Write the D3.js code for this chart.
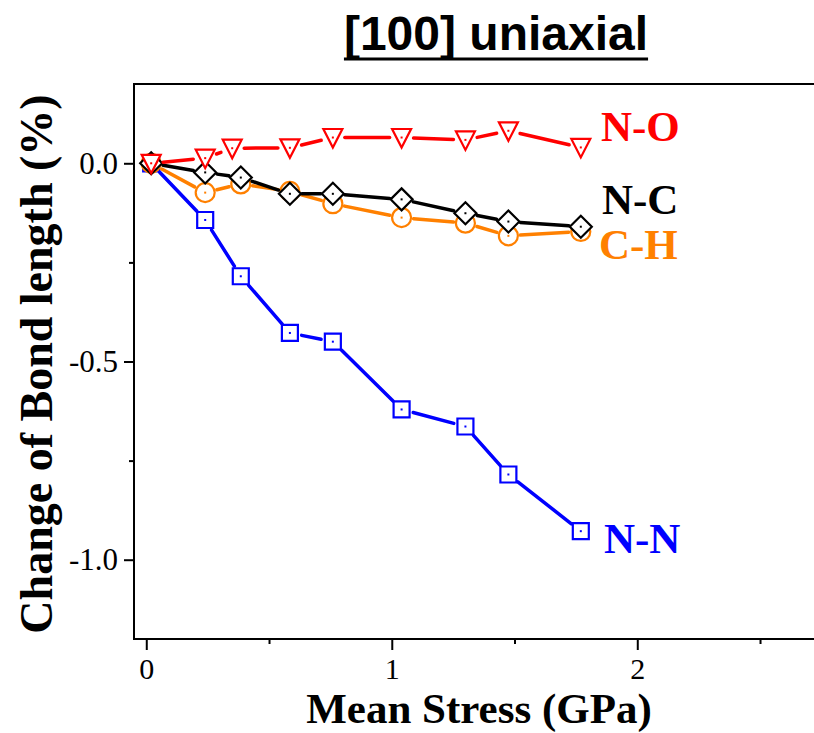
<!DOCTYPE html>
<html>
<head>
<meta charset="utf-8">
<script src="https://cdn.jsdelivr.net/npm/d3@7"></script>
<style>
  body { margin: 0; background: #fff; }
  svg { display: block; }
</style>
</head>
<body>
<svg id="chart" width="814" height="733"></svg>
<script>
// data (mean stress in GPa, bond length change in %)
const stressAll = [0.02, 0.24, 0.385, 0.585, 0.76, 1.04, 1.30, 1.475, 1.77];
const stressNO = [0.02, 0.24, 0.35, 0.585, 0.76, 1.04, 1.30, 1.475, 1.77];
const bondNN = [0, -0.143, -0.285, -0.428, -0.450, -0.621, -0.664, -0.785, -0.928];
const bondCH = [0, -0.074, -0.052, -0.071, -0.102, -0.137, -0.151, -0.183, -0.172];
const bondNC = [0, -0.023, -0.036, -0.077, -0.077, -0.091, -0.126, -0.147, -0.160];
const bondNO = [0, 0.013, 0.038, 0.039, 0.065, 0.065, 0.059, 0.082, 0.040];
const seriesNames = ['N-N', 'C-H', 'N-C', 'N-O'];
const xTickValues = [0, 1, 2];
const yTickValues = [0, -0.5, -1.0];

const svg = d3.select('#chart');

const x = d3.scaleLinear().domain([-0.05, 2.75]).range([134, 821.4]);
const y = d3.scaleLinear().domain([-1.2, 0.2]).range([639, 84]);

const serif = "'Liberation Serif', 'Times New Roman', serif";
const sans = "'Liberation Sans', Arial, sans-serif";

// title, underlined
const title = svg.append('text')
  .attr('x', 496).attr('y', 50)
  .attr('text-anchor', 'middle')
  .style('font-family', sans).style('font-weight', 'bold').style('font-size', '48px')
  .text('[100] uniaxial');
const tw = title.node().getComputedTextLength();
svg.append('line')
  .attr('x1', 496 - tw / 2).attr('x2', 496 + tw / 2)
  .attr('y1', 59).attr('y2', 59)
  .attr('stroke', '#000').attr('stroke-width', 3);

// frame
svg.append('rect')
  .attr('x', x.range()[0]).attr('y', y.range()[1])
  .attr('width', x.range()[1] - x.range()[0])
  .attr('height', y.range()[0] - y.range()[1])
  .attr('fill', 'none').attr('stroke', '#000').attr('stroke-width', 2);

// axes
svg.append('g').attr('transform', `translate(0,${y.range()[0]})`)
  .call(d3.axisBottom(x).tickValues(xTickValues).tickSize(11).tickPadding(8).tickFormat(d3.format('d')));
svg.append('g').attr('transform', `translate(0,${y.range()[0]})`)
  .call(d3.axisBottom(x).tickValues([0.5, 1.5, 2.5]).tickSize(5).tickFormat(''));
const yAxis = svg.append('g').attr('transform', `translate(${x.range()[0]},0)`)
  .call(d3.axisLeft(y).tickValues(yTickValues).tickSize(10).tickPadding(6).tickFormat(d3.format('.1f')));
svg.append('g').attr('transform', `translate(${x.range()[0]},0)`)
  .call(d3.axisLeft(y).tickValues([-0.25, -0.75]).tickSize(5).tickFormat(''));

svg.selectAll('.domain').remove();
svg.selectAll('.tick line').attr('stroke', '#000').attr('stroke-width', 2);
svg.selectAll('.tick text')
  .style('font-family', serif).style('font-size', '30px').attr('fill', '#000');
yAxis.selectAll('.tick text').style('font-size', '31px')
  .text(d => d3.format('.1f')(d).replace('−', '-'));

// axis titles
svg.append('text')
  .attr('x', 479).attr('y', 723)
  .attr('text-anchor', 'middle')
  .style('font-family', serif).style('font-weight', 'bold').style('font-size', '43px')
  .text('Mean Stress (GPa)');
svg.append('text')
  .attr('transform', 'translate(52,364) rotate(-90)')
  .attr('text-anchor', 'middle')
  .style('font-family', serif).style('font-weight', 'bold').style('font-size', '46px')
  .text('Change of Bond length (%)');

// markers
const markers = {
  square: 'M-8,-8H8V8H-8Z',
  circle: 'M9.5,0A9.5,9.5 0 1,1 -9.5,0A9.5,9.5 0 1,1 9.5,0Z',
  diamond: 'M0,-11L11,0L0,11L-11,0Z',
  triangle: 'M-9.5,-8.5L9.5,-8.5L0,10Z'
};

const seriesStyle = [
  { xs: stressAll, ys: bondNN, color: '#0000ff', marker: 'square', lx: 604, ly: 553 },
  { xs: stressAll, ys: bondCH, color: '#ff8000', marker: 'circle', lx: 599, ly: 259 },
  { xs: stressAll, ys: bondNC, color: '#000000', marker: 'diamond', lx: 602, ly: 214 },
  { xs: stressNO, ys: bondNO, color: '#ff0000', marker: 'triangle', lx: 601, ly: 141 }
];

const gap = 12;
seriesStyle.forEach((s, i) => {
  const pts = s.xs.map((v, j) => [x(v), y(s.ys[j])]);
  const g = svg.append('g').attr('class', 'series');
  // line segments stop short of each marker
  d3.pairs(pts).forEach(([a, b]) => {
    const dx = b[0] - a[0], dy = b[1] - a[1];
    const len = Math.hypot(dx, dy);
    if (len <= 2 * gap) return;
    const ux = dx / len, uy = dy / len;
    g.append('line')
      .attr('x1', a[0] + ux * gap).attr('y1', a[1] + uy * gap)
      .attr('x2', b[0] - ux * gap).attr('y2', b[1] - uy * gap)
      .attr('stroke', s.color).attr('stroke-width', 3.5).attr('stroke-linecap', 'round');
  });
  g.selectAll('path.mk').data(pts).join('path')
    .attr('class', 'mk')
    .attr('transform', d => `translate(${d[0]},${d[1]})`)
    .attr('d', markers[s.marker])
    .attr('fill', '#fff').attr('stroke', s.color).attr('stroke-width', 2.2);
  g.selectAll('rect.dot').data(pts).join('rect')
    .attr('class', 'dot')
    .attr('x', d => d[0] - 1).attr('y', d => d[1] - 1)
    .attr('width', 2).attr('height', 2)
    .attr('fill', s.color);
  svg.append('text')
    .attr('x', s.lx).attr('y', s.ly)
    .style('font-family', serif).style('font-weight', 'bold').style('font-size', '43px')
    .attr('fill', s.color)
    .text(seriesNames[i]);
});
</script>
</body>
</html>
